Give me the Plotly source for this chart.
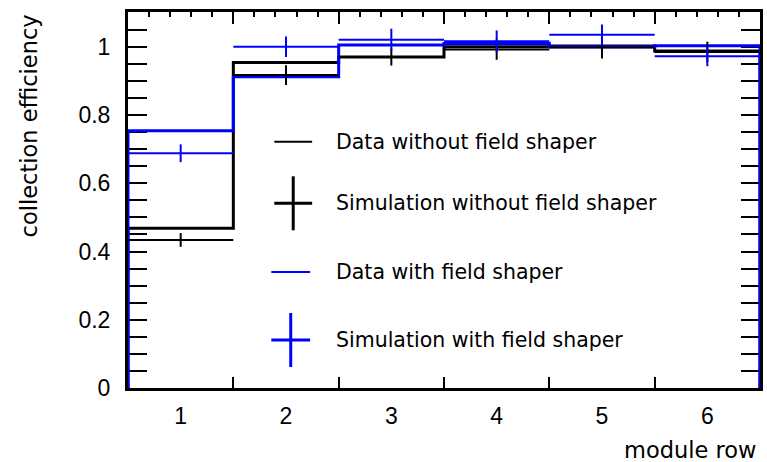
import numpy as np
import plotly.graph_objects as go

# ---------------- data ----------------
module_rows = [1, 2, 3, 4, 5, 6]
row_labels = ["1", "2", "3", "4", "5", "6"]

data_without_fs = [0.468, 0.954, 0.970, 1.000, 1.002, 0.988]
sim_without_fs = [0.434, 0.917, 0.970, 0.992, 0.998, 0.985]
sim_without_fs_err = [0.020, 0.029, 0.025, 0.030, 0.032, 0.030]

data_with_fs = [0.754, 0.912, 1.005, 1.010, 1.000, 1.003]
sim_with_fs = [0.688, 1.000, 1.021, 1.016, 1.035, 0.972]
sim_with_fs_err = [0.026, 0.030, 0.032, 0.032, 0.030, 0.029]

y_tick_vals = [0, 0.2, 0.4, 0.6, 0.8, 1.0]
y_tick_text = ["0", "0.2", "0.4", "0.6", "0.8", "1"]

legend_labels = ["Data without field shaper", "Simulation without field shaper",
                 "Data with field shaper", "Simulation with field shaper"]

# ---------------- layout geometry ----------------
W, H = 767, 462
ML, MR, MT, MB = 128, 4, 12, 74
PW, PH = W - ML - MR, H - MT - MB

def px(x):
    return (x - ML) / PW

def py(y):
    return (H - MB - y) / PH

BLACK = "#000000"
BLUE = "#0000ff"

rows = np.array(module_rows, dtype=float)
edges = np.concatenate([rows - 0.5, [rows[-1] + 0.5]])


def step_xy(vals):
    xs = [edges[0]] + list(edges[:-1]) + [edges[-1], edges[-1]]
    ys = [0] + list(vals) + [vals[-1], 0]
    return xs, ys


fig = go.Figure()

for vals, col in [(data_without_fs, BLACK), (data_with_fs, BLUE)]:
    xs, ys = step_xy(vals)
    fig.add_trace(go.Scatter(x=xs, y=ys, mode="lines", line=dict(color=col, width=3, shape="hv"),
                             showlegend=False, hoverinfo="skip"))

for vals, errs, col in [(sim_without_fs, sim_without_fs_err, BLACK), (sim_with_fs, sim_with_fs_err, BLUE)]:
    fig.add_trace(go.Scatter(
        x=module_rows, y=vals, mode="markers",
        marker=dict(size=1, color="rgba(0,0,0,0)"),
        error_x=dict(type="constant", value=0.5, width=0, thickness=2, color=col),
        error_y=dict(type="data", array=errs, width=0, thickness=2, color=col),
        showlegend=False, hoverinfo="skip"))

# dummy trace for top axis
fig.add_trace(go.Scatter(x=[None], y=[None], xaxis="x2", yaxis="y", showlegend=False))

tick_font = dict(family="Liberation Sans, Arial, sans-serif", size=23, color=BLACK)
text_font = dict(family="DejaVu Sans, sans-serif", size=20.5, color=BLACK)
title_font = dict(family="DejaVu Sans, sans-serif", size=22.5, color=BLACK)

fig.update_layout(
    width=W, height=H,
    margin=dict(l=ML, r=MR, t=MT, b=MB, pad=0),
    paper_bgcolor="white", plot_bgcolor="white",
    showlegend=False,
    xaxis=dict(range=[edges[0], edges[-1]], tickmode="array", tickvals=module_rows, ticktext=row_labels,
               ticks="", showgrid=False, zeroline=False, showline=True, linewidth=3, linecolor=BLACK,
               mirror=True, tickfont=tick_font, ticklabelstandoff=5,
               minor=dict(tickmode="array", tickvals=list(edges[1:-1]), ticks="inside", ticklen=11,
                          tickwidth=2, tickcolor=BLACK, showgrid=False)),
    xaxis2=dict(range=[edges[0], edges[-1]], overlaying="x", side="top", anchor="y",
                tickmode="linear", tick0=edges[0], dtick=1, ticks="inside", ticklen=12, tickwidth=2,
                tickcolor=BLACK, showticklabels=False, showgrid=False, zeroline=False, showline=False,
                minor=dict(tick0=edges[0], dtick=0.2, ticks="inside", ticklen=5, tickwidth=2,
                           tickcolor=BLACK, showgrid=False)),
    yaxis=dict(range=[0, 1.102], tickmode="array", tickvals=y_tick_vals, ticktext=y_tick_text,
               ticks="inside", ticklen=19, tickwidth=2, tickcolor=BLACK, showgrid=False, zeroline=False,
               showline=True, linewidth=3, linecolor=BLACK, mirror="allticks", tickfont=tick_font,
               layer="below traces", ticklabelstandoff=10,
               minor=dict(dtick=0.05, ticks="inside", ticklen=9, tickwidth=2, tickcolor=BLACK,
                          showgrid=False)),
)

# axis titles
fig.add_annotation(text="collection efficiency", xref="paper", yref="paper", x=px(29), y=py(126),
                   textangle=-90, showarrow=False, xanchor="center", yanchor="middle", font=title_font)
fig.add_annotation(text="module row", xref="paper", yref="paper", x=px(761), y=py(450),
                   showarrow=False, xanchor="right", yanchor="middle", font=title_font)

# legend (drawn manually)
leg_rows_y = [141.7, 203.3, 272, 340]
leg_cols = [BLACK, BLACK, BLUE, BLUE]
leg_cross = [False, True, False, True]
leg_x0 = [275, 275, 272, 272]
leg_x1 = [313, 313, 311, 311]
for lab, yy, col, cross, x0, x1 in zip(legend_labels, leg_rows_y, leg_cols, leg_cross, leg_x0, leg_x1):
    fig.add_shape(type="line", xref="paper", yref="paper", x0=px(x0), x1=px(x1), y0=py(yy), y1=py(yy),
                  line=dict(color=col, width=3 if cross else 2))
    if cross:
        xm = (x0 + x1) / 2
        fig.add_shape(type="line", xref="paper", yref="paper", x0=px(xm), x1=px(xm),
                      y0=py(yy - 27), y1=py(yy + 27), line=dict(color=col, width=3))
    fig.add_annotation(text=lab, xref="paper", yref="paper", x=px(335), y=py(yy), showarrow=False,
                       xanchor="left", yanchor="middle", font=text_font)

fig.write_html("out.html", config={"displayModeBar": False},
               post_script="document.body.style.margin='0';document.body.style.overflow='hidden';")
